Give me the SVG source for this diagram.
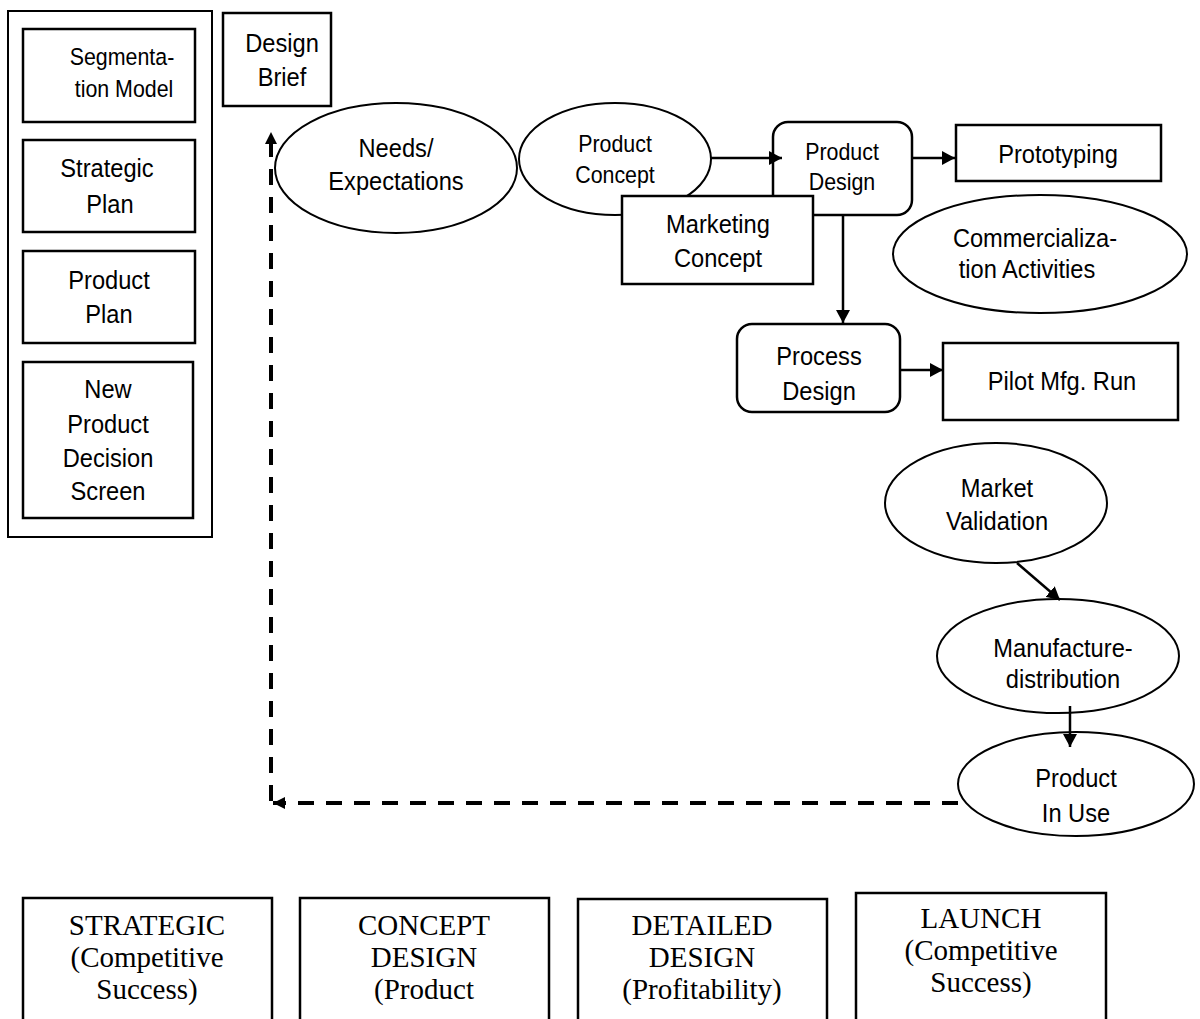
<svg xmlns="http://www.w3.org/2000/svg" width="1200" height="1019" viewBox="0 0 1200 1019">
  <style>
    .box { fill: #fff; stroke: #000; stroke-width: 2.5; }
    .frame { fill: #fff; stroke: #000; stroke-width: 2; }
    .oval { fill: #fff; stroke: #000; stroke-width: 2; }
    .lbl { font-family: "Liberation Sans", Arial, sans-serif; font-size: 26px; text-anchor: middle; fill: #000; }
    .sm { font-size: 23.5px; }
    .phase { font-family: "Liberation Serif", "Times New Roman", serif; font-size: 29px; text-anchor: middle; fill: #000; }
    .flow { fill: none; stroke: #000; stroke-width: 2.5; }
    .loop { fill: none; stroke: #000; stroke-width: 4; stroke-dasharray: 16 12; }
  </style>
  <defs>
    <marker id="arrow" markerUnits="userSpaceOnUse" markerWidth="14" markerHeight="14" refX="13" refY="7" orient="auto">
      <path d="M0,0 L13,7 L0,14 Z" fill="#000"/>
    </marker>
    <marker id="arrowSmall" markerUnits="userSpaceOnUse" markerWidth="14" markerHeight="12" refX="12" refY="6" orient="auto">
      <path d="M0,0 L12,6 L0,12 Z" fill="#000"/>
    </marker>
  </defs>

  <rect width="1200" height="1019" fill="#fff"/>

  <!-- Left column: planning inputs (sans labels are slightly condensed) -->
  <g id="planning-frame">
    <rect class="frame" x="8" y="11" width="204" height="526"/>
  </g>
  <g id="segmentation-model">
    <rect class="box" x="23" y="29" width="172" height="93"/>
    <text class="lbl sm" transform="translate(122,65) scale(0.91,1)">Segmenta-</text>
    <text class="lbl sm" transform="translate(124,97) scale(0.91,1)">tion Model</text>
  </g>
  <g id="strategic-plan">
    <rect class="box" x="23" y="140" width="172" height="92"/>
    <text class="lbl" transform="translate(107,177) scale(0.91,1)">Strategic</text>
    <text class="lbl" transform="translate(110,213) scale(0.91,1)">Plan</text>
  </g>
  <g id="product-plan">
    <rect class="box" x="23" y="251" width="172" height="92"/>
    <text class="lbl" transform="translate(109,289) scale(0.91,1)">Product</text>
    <text class="lbl" transform="translate(109,323) scale(0.91,1)">Plan</text>
  </g>
  <g id="decision-screen">
    <rect class="box" x="23" y="362" width="170" height="156"/>
    <text class="lbl" transform="translate(108,398) scale(0.91,1)">New</text>
    <text class="lbl" transform="translate(108,433) scale(0.91,1)">Product</text>
    <text class="lbl" transform="translate(108,467) scale(0.91,1)">Decision</text>
    <text class="lbl" transform="translate(108,500) scale(0.91,1)">Screen</text>
  </g>

  <!-- Design flow -->
  <g id="design-brief">
    <rect class="box" x="223" y="13" width="108" height="93"/>
    <text class="lbl" transform="translate(282,52) scale(0.91,1)">Design</text>
    <text class="lbl" transform="translate(282,86) scale(0.91,1)">Brief</text>
  </g>
  <g id="needs-expectations">
    <ellipse class="oval" cx="396" cy="168" rx="121" ry="65"/>
    <text class="lbl" transform="translate(396,157) scale(0.91,1)">Needs/</text>
    <text class="lbl" transform="translate(396,190) scale(0.91,1)">Expectations</text>
  </g>
  <g id="product-concept">
    <ellipse class="oval" cx="615" cy="159" rx="96" ry="56"/>
    <text class="lbl sm" transform="translate(615,152) scale(0.91,1)">Product</text>
    <text class="lbl sm" transform="translate(615,183) scale(0.91,1)">Concept</text>
  </g>
  <g id="product-design">
    <rect class="box" x="773" y="122" width="139" height="93" rx="15" ry="15"/>
    <text class="lbl sm" transform="translate(842,160) scale(0.91,1)">Product</text>
    <text class="lbl sm" transform="translate(842,190) scale(0.91,1)">Design</text>
  </g>
  <g id="marketing-concept">
    <rect class="box" x="622" y="196" width="191" height="88"/>
    <text class="lbl" transform="translate(718,233) scale(0.91,1)">Marketing</text>
    <text class="lbl" transform="translate(718,267) scale(0.91,1)">Concept</text>
  </g>
  <g id="prototyping">
    <rect class="box" x="956" y="125" width="205" height="56"/>
    <text class="lbl" transform="translate(1058,163) scale(0.91,1)">Prototyping</text>
  </g>
  <g id="commercialization">
    <ellipse class="oval" cx="1040" cy="254" rx="147" ry="59"/>
    <text class="lbl" transform="translate(1035,247) scale(0.91,1)">Commercializa-</text>
    <text class="lbl" transform="translate(1027,278) scale(0.91,1)">tion Activities</text>
  </g>
  <g id="process-design">
    <rect class="box" x="737" y="324" width="163" height="88" rx="15" ry="15"/>
    <text class="lbl" transform="translate(819,365) scale(0.91,1)">Process</text>
    <text class="lbl" transform="translate(819,400) scale(0.91,1)">Design</text>
  </g>
  <g id="pilot-run">
    <rect class="box" x="943" y="343" width="235" height="77"/>
    <text class="lbl" transform="translate(1062,390) scale(0.91,1)">Pilot Mfg. Run</text>
  </g>
  <g id="market-validation">
    <ellipse class="oval" cx="996" cy="503" rx="111" ry="60"/>
    <text class="lbl" transform="translate(997,497) scale(0.91,1)">Market</text>
    <text class="lbl" transform="translate(997,530) scale(0.91,1)">Validation</text>
  </g>
  <g id="manufacture-distribution">
    <ellipse class="oval" cx="1058" cy="656" rx="121" ry="57"/>
    <text class="lbl" transform="translate(1063,657) scale(0.91,1)">Manufacture-</text>
    <text class="lbl" transform="translate(1063,688) scale(0.91,1)">distribution</text>
  </g>
  <g id="product-in-use">
    <ellipse class="oval" cx="1076" cy="784" rx="118" ry="52"/>
    <text class="lbl" transform="translate(1076,787) scale(0.91,1)">Product</text>
    <text class="lbl" transform="translate(1076,822) scale(0.91,1)">In Use</text>
  </g>

  <!-- Connectors -->
  <g id="connectors">
    <path class="flow" d="M711,158 H782" marker-end="url(#arrow)"/>
    <path class="flow" d="M912,158 H955" marker-end="url(#arrow)"/>
    <path class="flow" d="M843,215 V323" marker-end="url(#arrow)"/>
    <path class="flow" d="M900,370 H943" marker-end="url(#arrow)"/>
    <path class="flow" d="M1017,563 L1060,600" marker-end="url(#arrow)"/>
    <path class="flow" d="M1070,706 V747" marker-end="url(#arrow)"/>
    <path class="loop" d="M958,803 H273" marker-end="url(#arrowSmall)"/>
    <path class="loop" d="M271,801 V132" marker-end="url(#arrowSmall)"/>
  </g>

  <!-- Phase boxes along the bottom -->
  <g id="phase-strategic">
    <rect class="box" x="23" y="898" width="249" height="135"/>
    <text class="phase" x="147" y="935">STRATEGIC</text>
    <text class="phase" x="147" y="967">(Competitive</text>
    <text class="phase" x="147" y="999">Success)</text>
  </g>
  <g id="phase-concept">
    <rect class="box" x="300" y="898" width="249" height="135"/>
    <text class="phase" x="424" y="935">CONCEPT</text>
    <text class="phase" x="424" y="967">DESIGN</text>
    <text class="phase" x="424" y="999">(Product</text>
  </g>
  <g id="phase-detailed">
    <rect class="box" x="578" y="899" width="249" height="135"/>
    <text class="phase" x="702" y="935">DETAILED</text>
    <text class="phase" x="702" y="967">DESIGN</text>
    <text class="phase" x="702" y="999">(Profitability)</text>
  </g>
  <g id="phase-launch">
    <rect class="box" x="856" y="893" width="250" height="140"/>
    <text class="phase" x="981" y="928">LAUNCH</text>
    <text class="phase" x="981" y="960">(Competitive</text>
    <text class="phase" x="981" y="992">Success)</text>
  </g>
</svg>
